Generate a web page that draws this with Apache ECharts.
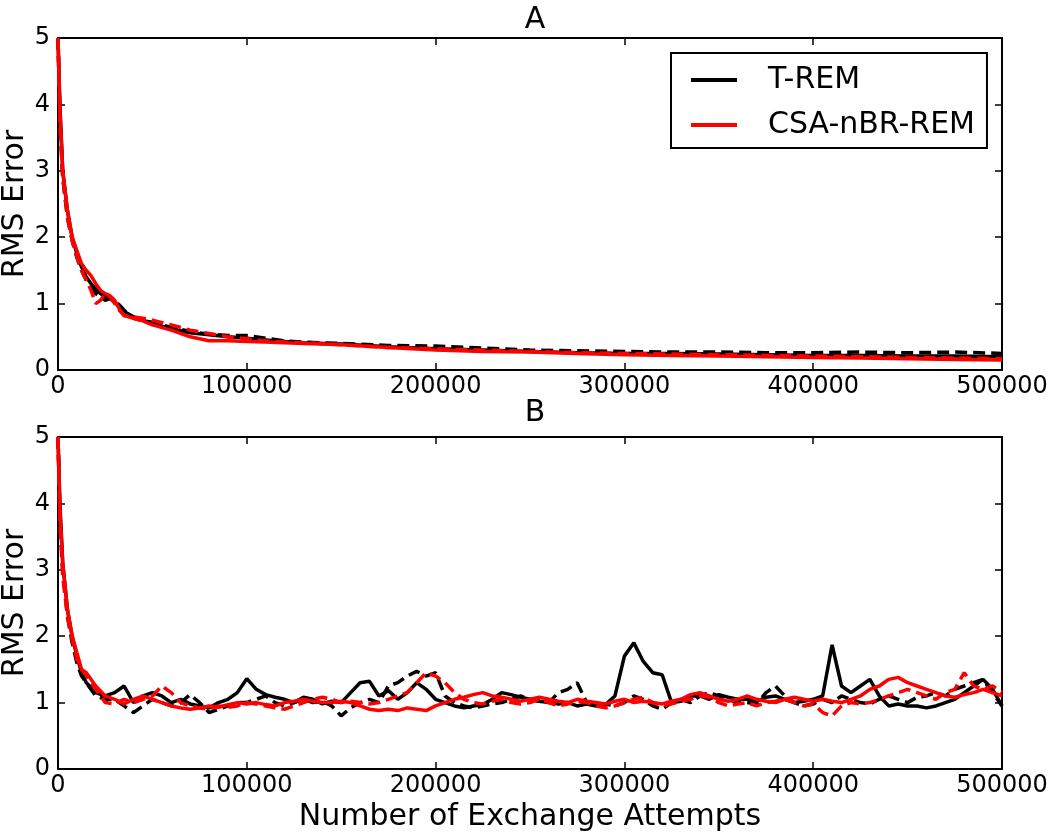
<!DOCTYPE html>
<html>
<head>
<meta charset="utf-8">
<script src="https://cdn.jsdelivr.net/npm/echarts@6/dist/echarts.min.js"></script>
<style>
html,body{margin:0;padding:0;background:#fff;}
#chart{width:1050px;height:839px;}
</style>
</head>
<body>
<div id="chart"></div>
<script>
// ---------- DATA ----------
const panelTitles = ['A', 'B'];
const legendNames = ['T-REM', 'CSA-nBR-REM'];
const yAxisName = 'RMS Error';
const xAxisName = 'Number of Exchange Attempts';
const xTicks = [0, 100000, 200000, 300000, 400000, 500000];
const yTicks = [0, 1, 2, 3, 4, 5];

// Panel A x positions
const xA = [0,1000,2500,5000,7500,10000,12500,15000,17500,20000,22500,25000,27500,30000,32500,35000,40000,45000,50000,60000,70000,80000,90000,100000,110000,120000,130000,140000,150000,175000,200000,225000,250000,275000,300000,325000,350000,375000,400000,425000,450000,475000,500000];
const aTremSolid = [5,4.0,3.0,2.4,2.0,1.75,1.55,1.4,1.3,1.22,1.15,1.1,1.08,1.02,0.95,0.88,0.8,0.75,0.7,0.62,0.56,0.53,0.5,0.48,0.45,0.43,0.41,0.4,0.39,0.35,0.32,0.3,0.28,0.26,0.25,0.25,0.24,0.23,0.22,0.22,0.21,0.21,0.2];
const aTremDashed = [5,3.8,2.9,2.3,1.95,1.7,1.5,1.35,1.25,1.15,1.1,1.05,1.08,1.05,0.98,0.9,0.78,0.74,0.72,0.64,0.58,0.54,0.52,0.52,0.48,0.44,0.42,0.41,0.4,0.37,0.36,0.33,0.3,0.29,0.28,0.27,0.27,0.26,0.26,0.27,0.26,0.27,0.25];
const aCsaSolid = [5,3.9,3.0,2.4,2.0,1.8,1.6,1.5,1.42,1.3,1.2,1.15,1.12,1.05,0.92,0.82,0.78,0.74,0.68,0.6,0.5,0.44,0.44,0.43,0.42,0.41,0.4,0.39,0.38,0.34,0.3,0.28,0.27,0.25,0.23,0.22,0.21,0.2,0.19,0.18,0.17,0.16,0.15];
const aCsaDashed = [5,3.7,2.9,2.3,1.95,1.7,1.5,1.35,1.2,1.0,1.05,1.15,1.1,1.0,0.9,0.82,0.8,0.78,0.75,0.68,0.6,0.55,0.5,0.47,0.44,0.42,0.41,0.4,0.38,0.34,0.32,0.3,0.28,0.26,0.25,0.24,0.23,0.22,0.21,0.2,0.19,0.18,0.17];

// Panel B x positions
const xB = [0,1000,2500,5000,7500,10000,12500,15000,20000,25000,
  30000,35000,40000,45000,50000,55000,60000,65000,70000,75000,80000,85000,90000,95000,100000,105000,110000,115000,120000,125000,130000,135000,140000,145000,150000,155000,160000,165000,170000,175000,180000,185000,190000,195000,200000,205000,210000,215000,220000,225000,230000,235000,240000,245000,250000,255000,260000,265000,270000,275000,280000,285000,290000,295000,300000,305000,310000,315000,320000,325000,330000,335000,340000,345000,350000,355000,360000,365000,370000,375000,380000,385000,390000,395000,400000,405000,410000,415000,420000,425000,430000,435000,440000,445000,450000,455000,460000,465000,470000,475000,480000,485000,490000,495000,500000];
const bTremSolid = [5,4.0,3.1,2.4,2.0,1.7,1.45,1.3,1.15,1.1,
  1.15,1.25,1.0,1.1,1.15,1.1,1.0,1.05,0.98,0.95,0.92,1.0,1.05,1.15,1.36,1.2,1.12,1.08,1.05,1.0,1.08,1.05,0.98,1.02,1.0,1.15,1.3,1.32,1.1,1.18,1.05,1.15,1.3,1.2,1.05,1.0,0.95,0.92,0.95,0.97,1.05,1.15,1.12,1.08,1.05,1.02,1.0,0.98,1.0,0.95,0.98,0.95,0.97,1.1,1.7,1.9,1.62,1.45,1.42,1.0,1.02,1.1,1.1,1.05,1.12,1.08,1.05,1.05,1.02,1.08,1.1,1.05,1.0,1.02,1.05,1.1,1.87,1.25,1.15,1.25,1.35,1.1,0.95,0.98,0.95,0.95,0.92,0.95,1.0,1.05,1.15,1.25,1.35,1.2,0.95];
const bTremDashed = [5,3.8,3.0,2.3,1.9,1.6,1.4,1.3,1.1,1.05,
  1.05,0.95,0.85,0.95,1.05,1.0,0.95,1.0,1.12,1.0,0.85,0.9,0.95,1.0,1.0,1.05,1.1,1.0,0.95,1.0,1.05,1.0,1.02,0.95,0.8,0.92,1.0,1.05,1.0,1.25,1.3,1.4,1.47,1.4,1.45,1.1,1.0,0.95,0.92,0.95,0.98,1.0,1.05,1.1,1.05,1.02,1.0,1.15,1.2,1.3,1.0,0.95,0.98,0.95,1.0,1.1,1.05,0.95,0.9,1.0,1.05,1.0,1.1,1.15,1.1,1.05,1.0,1.0,0.98,1.15,1.25,1.1,1.0,0.95,0.98,1.05,1.0,1.1,1.05,1.0,0.98,1.05,1.1,1.05,1.0,1.08,1.1,1.15,1.1,1.2,1.25,1.3,1.35,1.15,0.95];
const bCsaSolid = [5,3.9,3.1,2.4,2.0,1.75,1.5,1.45,1.25,1.1,
  1.05,0.98,1.05,1.1,1.05,1.0,0.95,0.92,0.9,0.92,0.95,0.93,0.97,1.0,0.98,1.0,0.97,0.95,1.0,1.02,1.05,1.02,1.0,1.0,1.02,1.0,0.95,0.9,0.88,0.9,0.88,0.92,0.9,0.88,0.95,1.0,1.05,1.08,1.12,1.15,1.1,1.08,1.05,1.02,1.05,1.08,1.05,1.02,1.0,1.05,1.02,1.0,0.98,1.02,1.05,1.0,1.02,1.0,0.98,1.02,1.05,1.12,1.15,1.1,1.05,1.02,1.05,1.1,1.05,1.02,1.0,1.05,1.08,1.05,1.02,1.05,1.02,1.0,1.05,1.1,1.2,1.25,1.35,1.38,1.3,1.25,1.2,1.15,1.1,1.08,1.12,1.15,1.2,1.15,1.1];
const bCsaDashed = [5,3.7,2.9,2.3,1.95,1.65,1.5,1.4,1.2,1.0,
  0.98,1.05,1.0,1.05,1.1,1.25,1.15,1.0,0.95,0.92,0.9,0.95,0.93,0.95,1.0,0.98,0.95,0.92,0.9,0.95,1.0,1.05,1.08,1.05,1.0,1.02,1.0,0.98,1.0,1.05,1.1,1.15,1.3,1.45,1.4,1.3,1.15,1.05,1.0,0.98,1.02,1.05,1.0,0.98,1.0,1.05,1.0,0.95,0.98,1.02,1.0,0.95,0.92,0.95,1.0,1.05,1.08,1.0,0.95,0.98,1.02,1.05,1.1,1.08,1.0,0.95,0.98,1.0,0.95,1.0,1.02,1.05,1.0,0.95,0.98,0.85,0.8,0.95,1.0,0.98,1.0,1.05,1.1,1.15,1.2,1.15,1.1,1.05,1.15,1.2,1.45,1.25,1.2,1.25,1.15];

// ---------- BUILD ----------
const FONT = 'DejaVu Sans';
const zip = (xs, ys) => xs.map((x, i) => [x, ys[i]]);

const grids = [
  {left: 58, right: 48, top: 38, height: 332, containLabel: false, outerBoundsMode: 'none'},
  {left: 58, right: 48, top: 437, height: 332, containLabel: false, outerBoundsMode: 'none'}
];

function xAxisFor(gridIndex, pos, showLabels, name) {
  return {
    type: 'value', gridIndex: gridIndex, position: pos,
    min: xTicks[0], max: xTicks[xTicks.length - 1], interval: xTicks[1] - xTicks[0],
    axisLine: {show: true, onZero: false, lineStyle: {color: '#000', width: 2}},
    axisTick: {show: true, inside: true, length: 7, lineStyle: {color: '#000', width: 1.5}},
    axisLabel: {show: showLabels, color: '#000', fontFamily: FONT, fontSize: 24, margin: 5,
      formatter: v => String(v), hideOverlap: false},
    splitLine: {show: false},
    name: name || '', nameLocation: 'middle', nameGap: 33,
    nameTextStyle: {color: '#000', fontFamily: FONT, fontSize: 30}
  };
}
function yAxisFor(gridIndex, pos, showLabels) {
  return {
    type: 'value', gridIndex: gridIndex, position: pos,
    min: yTicks[0], max: yTicks[yTicks.length - 1], interval: yTicks[1] - yTicks[0],
    axisLine: {show: true, onZero: false, lineStyle: {color: '#000', width: 2}},
    axisTick: {show: true, inside: true, length: 7, lineStyle: {color: '#000', width: 1.5}},
    axisLabel: {show: showLabels, color: '#000', fontFamily: FONT, fontSize: 24, margin: 8,
      formatter: v => String(v)},
    splitLine: {show: false}
  };
}

const xAxes = [
  xAxisFor(0, 'bottom', true), xAxisFor(0, 'top', false),
  xAxisFor(1, 'bottom', true, xAxisName), xAxisFor(1, 'top', false)
];
const yAxes = [
  yAxisFor(0, 'left', true), yAxisFor(0, 'right', false),
  yAxisFor(1, 'left', true), yAxisFor(1, 'right', false)
];

function lineSeries(name, xs, ys, color, dashed, axisIdx) {
  return {
    name: name, type: 'line', data: zip(xs, ys),
    xAxisIndex: axisIdx.x, yAxisIndex: axisIdx.y,
    showSymbol: false, symbol: 'none', animation: false,
    lineStyle: {color: color, width: 3.5, type: dashed ? [12, 6] : 'solid'},
    itemStyle: {color: color}
  };
}

const BLACK = '#000000', RED = '#ff0000';
const ax0 = {x: 0, y: 0}, ax1 = {x: 2, y: 2};
const series = [
  lineSeries(legendNames[0], xA, aTremDashed, BLACK, true, ax0),
  lineSeries(legendNames[0], xA, aTremSolid, BLACK, false, ax0),
  lineSeries(legendNames[1], xA, aCsaDashed, RED, true, ax0),
  lineSeries(legendNames[1], xA, aCsaSolid, RED, false, ax0),
  lineSeries(legendNames[0], xB, bTremDashed, BLACK, true, ax1),
  lineSeries(legendNames[0], xB, bTremSolid, BLACK, false, ax1),
  lineSeries(legendNames[1], xB, bCsaDashed, RED, true, ax1),
  lineSeries(legendNames[1], xB, bCsaSolid, RED, false, ax1)
];

function yNameText(centerY) {
  return {
    type: 'text', x: 15, y: centerY, rotation: Math.PI / 2,
    style: {text: yAxisName, fill: '#000', font: '30px "DejaVu Sans"',
      align: 'center', verticalAlign: 'middle'}
  };
}

const chart = echarts.init(document.getElementById('chart'), null, {renderer: 'canvas'});
chart.setOption({
  backgroundColor: '#ffffff',
  animation: false,
  title: [
    {text: panelTitles[0], left: 530, top: 0, textAlign: 'center',
     textStyle: {color: '#000', fontFamily: FONT, fontSize: 30, fontWeight: 'normal'}},
    {text: panelTitles[1], left: 530, top: 393, textAlign: 'center',
     textStyle: {color: '#000', fontFamily: FONT, fontSize: 30, fontWeight: 'normal'}}
  ],
  legend: {
    show: true, orient: 'vertical', left: 671, top: 53,
    padding: [12, 12, 8, 20],
    itemGap: 15, itemWidth: 46, itemHeight: 4,
    backgroundColor: '#ffffff', borderColor: '#000', borderWidth: 2, borderRadius: 0,
    data: [
      {name: legendNames[0], icon: 'rect', itemStyle: {color: BLACK}},
      {name: legendNames[1], icon: 'rect', itemStyle: {color: RED}}
    ],
    textStyle: {color: '#000', fontFamily: FONT, fontSize: 30, lineHeight: 30, padding: [0, 0, 0, 26]},
    selectedMode: false
  },
  graphic: [yNameText(204), yNameText(603)],
  grid: grids,
  xAxis: xAxes,
  yAxis: yAxes,
  series: series
});
</script>
</body>
</html>
